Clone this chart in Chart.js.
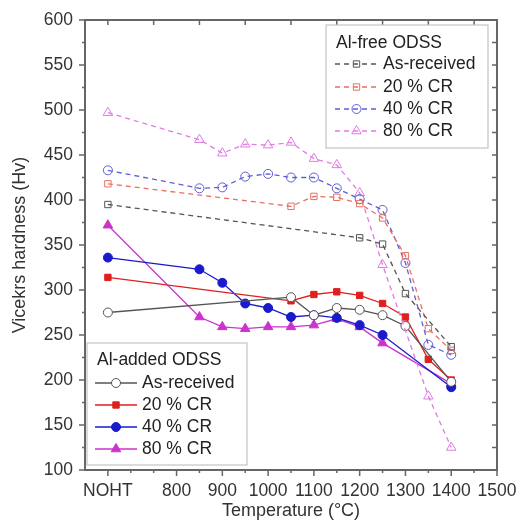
<!DOCTYPE html>
<html>
<head>
<meta charset="utf-8">
<script src="https://cdn.jsdelivr.net/npm/chart.js@4"></script>
<style>
  body { margin: 0; background: #fff; }
  canvas { display: block; }
</style>
</head>
<body>
<canvas id="hv-chart" width="517" height="524" style="width:517px;height:524px"></canvas>
<script>
// Hardness vs annealing temperature, Al-free and Al-added ODSS
const NOHT = 650;
const temps = [NOHT, 850, 900, 950, 1000, 1050, 1100, 1150, 1200, 1250, 1300, 1350, 1400];

// Al-free ODSS (dashed, open markers)
const freeAsReceived = [395, null, null, null, null, null, null, null, 358, 351, 296, null, 237];
const free20 = [418, null, null, null, null, 393, 404, 403, 396, 380, 338, 257, 233];
const free40 = [433, 413, 414, 426, 429, 425, 425, 413, 401, 389, 330, 239, 228];
const free80 = [497, 467, 452, 462, 461, 464, 446, 439, 408, 328, null, 182, 125];

// Al-added ODSS (solid, filled markers)
const addedAsReceived = [275, null, null, null, null, 292, 272, 280, 278, 272, 260, null, 198];
const added20 = [314, null, null, null, null, 288, 295, 298, 294, 285, 270, 223, 200];
const added40 = [336, 323, 308, 285, 280, 270, 272, 269, 261, 250, null, null, 192];
const added80 = [372, 270, 259, 257, 259, 259, 261, 268, 259, 241, null, null, 196];

const xTickVals = [650, 800, 900, 1000, 1100, 1200, 1300, 1400, 1500];
const seriesNames = ['As-received', '20 % CR', '40 % CR', '80 % CR'];

const FONT = "'Liberation Sans', Arial, sans-serif";

function pts(vals) {
    return temps.map((t, i) => ({ x: t, y: vals[i] })).filter(p => p.y !== null);
}

function freeSet(label, vals, color, style) {
    return {
        label, data: pts(vals), group: 'free',
        borderColor: color, backgroundColor: 'rgba(255,255,255,0)',
        borderWidth: 1.3, borderDash: [5, 4],
        pointStyle: style, pointRadius: style === 'triangle' ? 5.5 : 4.5,
        pointBorderColor: color, pointBorderWidth: 1,
        pointBackgroundColor: 'rgba(255,255,255,0)',
        spanGaps: true, tension: 0
    };
}

function addedSet(label, vals, color, style, fill) {
    return {
        label, data: pts(vals), group: 'added',
        borderColor: color, backgroundColor: fill,
        borderWidth: 1.3,
        pointStyle: style, pointRadius: style === 'triangle' ? 5.5 : 4.5,
        pointBorderColor: color, pointBorderWidth: 1,
        pointBackgroundColor: fill,
        spanGaps: true, tension: 0
    };
}

const datasets = [
    freeSet(seriesNames[0], freeAsReceived, '#555555', 'rect'),
    freeSet(seriesNames[1], free20, '#e8705f', 'rect'),
    freeSet(seriesNames[2], free40, '#5d5dd6', 'circle'),
    freeSet(seriesNames[3], free80, '#e27ae6', 'triangle'),
    addedSet(seriesNames[0], addedAsReceived, '#555555', 'circle', '#ffffff'),
    addedSet(seriesNames[1], added20, '#e01f1f', 'rect', '#e01f1f'),
    addedSet(seriesNames[2], added40, '#1a1acc', 'circle', '#1a1acc'),
    addedSet(seriesNames[3], added80, '#cc33cc', 'triangle', '#cc33cc')
];

function drawMarker(ctx, ds, x, y) {
    const r = ds.pointRadius;
    ctx.save();
    ctx.lineWidth = ds.pointBorderWidth;
    ctx.strokeStyle = ds.pointBorderColor;
    ctx.fillStyle = ds.pointBackgroundColor;
    ctx.setLineDash([]);
    ctx.beginPath();
    if (ds.pointStyle === 'rect') {
        const s = r * Math.SQRT1_2;
        ctx.rect(x - s, y - s, s * 2, s * 2);
    } else if (ds.pointStyle === 'triangle') {
        ctx.moveTo(x, y - r);
        ctx.lineTo(x + r * 0.866, y + r * 0.5);
        ctx.lineTo(x - r * 0.866, y + r * 0.5);
        ctx.closePath();
    } else {
        ctx.arc(x, y, r, 0, Math.PI * 2);
    }
    ctx.fill();
    ctx.stroke();
    ctx.restore();
}

function drawLegend(ctx, box, title, sets, lineX0, lineX1, textX, rows) {
    ctx.save();
    ctx.fillStyle = '#ffffff';
    ctx.fillRect(box.x, box.y, box.w, box.h);
    ctx.strokeStyle = '#c4c4c4';
    ctx.lineWidth = 1.2;
    ctx.strokeRect(box.x, box.y, box.w, box.h);
    ctx.font = '17.5px ' + FONT;
    ctx.fillStyle = '#222';
    ctx.textBaseline = 'middle';
    ctx.textAlign = 'left';
    ctx.fillText(title, box.x + 10, rows[0]);
    sets.forEach((ds, i) => {
        const y = rows[i + 1];
        ctx.strokeStyle = ds.borderColor;
        ctx.lineWidth = ds.borderWidth;
        ctx.setLineDash(ds.borderDash || []);
        ctx.beginPath();
        ctx.moveTo(lineX0, y);
        ctx.lineTo(lineX1, y);
        ctx.stroke();
        drawMarker(ctx, ds, (lineX0 + lineX1) / 2, y);
        ctx.fillStyle = '#222';
        ctx.fillText(ds.label, textX, y);
    });
    ctx.restore();
}

const framePlugin = {
    id: 'frame',
    afterDatasetsDraw(chart) {
        const { ctx, chartArea: a, scales: { x, y } } = chart;
        ctx.save();
        ctx.strokeStyle = '#666';
        ctx.lineWidth = 1.5;
        ctx.setLineDash([]);
        ctx.beginPath();
        // left / right ticks
        for (let v = 100; v <= 600; v += 25) {
            const py = y.getPixelForValue(v);
            const len = v % 50 === 0 ? 6 : 3;
            ctx.moveTo(a.left - len, py); ctx.lineTo(a.left, py);
            ctx.moveTo(a.right - 5, py); ctx.lineTo(a.right, py);
        }
        // bottom ticks
        for (let v = 650; v <= 1500; v += 50) {
            const px = x.getPixelForValue(v);
            const len = xTickVals.includes(v) ? 6 : 3;
            ctx.moveTo(px, a.bottom); ctx.lineTo(px, a.bottom + len);
        }
        // top ticks
        for (let v = 650; v <= 1450; v += 100) {
            const px = x.getPixelForValue(v);
            ctx.moveTo(px, a.top); ctx.lineTo(px, a.top + 5);
        }
        ctx.stroke();
        ctx.lineWidth = 2;
        ctx.strokeRect(a.left, a.top, a.right - a.left, a.bottom - a.top);
        ctx.restore();

        const ds = chart.data.datasets;
        drawLegend(ctx, { x: 326, y: 25, w: 162, h: 123 }, 'Al-free ODSS',
            ds.filter(d => d.group === 'free'), 335, 378, 383, [43, 64, 87, 109, 131]);
        drawLegend(ctx, { x: 87, y: 343, w: 160, h: 122 }, 'Al-added ODSS',
            ds.filter(d => d.group === 'added'), 95, 137, 142, [360, 383, 405, 427, 449]);
    }
};

new Chart(document.getElementById('hv-chart').getContext('2d'), {
    type: 'line',
    data: { datasets },
    options: {
        responsive: false,
        animation: false,
        layout: { padding: { left: 0, right: 20, top: 20, bottom: 0 } },
        plugins: { legend: { display: false }, tooltip: { enabled: false } },
        scales: {
            x: {
                type: 'linear',
                min: 600,
                max: 1500,
                afterBuildTicks: s => { s.ticks = xTickVals.map(v => ({ value: v })); },
                afterFit: s => { s.height = 54; s.paddingRight = 0; s.paddingLeft = 0; },
                grid: { display: false },
                border: { display: false },
                ticks: {
                    callback: v => v === NOHT ? 'NOHT' : String(v),
                    autoSkip: false, maxRotation: 0, padding: 3,
                    color: '#333', font: { family: FONT, size: 17.5 }
                },
                title: {
                    display: true, text: 'Temperature (°C)', color: '#333',
                    font: { family: FONT, size: 18 }, padding: { top: 0, bottom: 2 }
                }
            },
            y: {
                min: 100,
                max: 600,
                afterFit: s => { s.width = 85; s.paddingTop = 0; s.paddingBottom = 0; },
                grid: { display: false },
                border: { display: false },
                ticks: {
                    stepSize: 50, padding: 4,
                    color: '#333', font: { family: FONT, size: 17.5 }
                },
                title: {
                    display: true, text: 'Vicekrs hardness (Hv)', color: '#333',
                    font: { family: FONT, size: 18 }, padding: { top: 9, bottom: 0 }
                }
            }
        }
    },
    plugins: [framePlugin]
});
</script>
</body>
</html>
